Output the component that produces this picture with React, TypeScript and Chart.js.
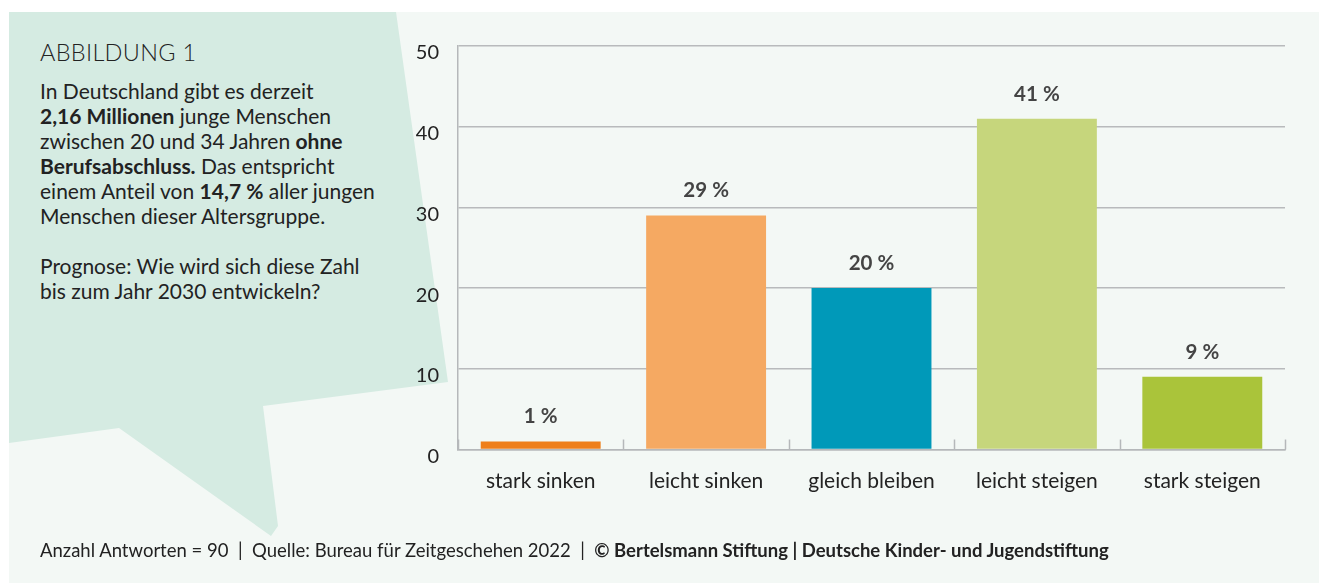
import React, { useEffect, useRef } from "react";
import { Chart, registerables } from "chart.js";

Chart.register(...registerables);

const categories = ["stark sinken", "leicht sinken", "gleich bleiben", "leicht steigen", "stark steigen"];
const shares = [1, 29, 20, 41, 9];
const barColors = ["#ee7f1b", "#f5a962", "#0099b9", "#c6d67c", "#aac43a"];
const yTicks = [0, 10, 20, 30, 40, 50];

const FONT = "Lato, 'Noto Sans', sans-serif";

const upTicksPlugin = {
  id: "upTicks",
  beforeDatasetsDraw(chart: any) {
    const x = chart.scales.x;
    const y = chart.scales.y;
    const ctx = chart.ctx;
    const base = y.getPixelForValue(0);
    ctx.save();
    ctx.strokeStyle = "#b5b8ba";
    ctx.lineWidth = 1.5;
    for (let i = 0; i <= categories.length; i++) {
      const px = Math.round(x.getPixelForValue(i - 0.5)) + 0.5;
      ctx.beginPath();
      ctx.moveTo(px, base);
      ctx.lineTo(px, base - 10);
      ctx.stroke();
    }
    ctx.restore();
  },
};

const valueLabelPlugin = {
  id: "valueLabels",
  afterDatasetsDraw(chart: any) {
    const ctx = chart.ctx;
    const meta = chart.getDatasetMeta(0);
    ctx.save();
    ctx.font = `bold 20.5px ${FONT}`;
    ctx.fillStyle = "#444444";
    ctx.textAlign = "center";
    ctx.textBaseline = "alphabetic";
    meta.data.forEach((bar: any, i: number) => {
      ctx.fillText(`${shares[i]}\u202F%`, bar.x, bar.y - 18);
    });
    ctx.restore();
  },
};

function ChartCanvas() {
  const ref = useRef<HTMLCanvasElement | null>(null);
  useEffect(() => {
    if (!ref.current) return;
    const chart = new Chart(ref.current, {
      type: "bar",
      data: {
        labels: categories,
        datasets: [
          {
            data: shares,
            backgroundColor: barColors,
            borderWidth: 0,
            categoryPercentage: 0.725,
            barPercentage: 1,
          },
        ],
      },
      options: {
        animation: false,
        responsive: false,
        devicePixelRatio: 1,
        layout: { padding: { left: 400, right: 34, top: 46, bottom: 83.5 } },
        plugins: {
          legend: { display: false },
          tooltip: { enabled: false },
          title: { display: false },
        },
        scales: {
          x: {
            grid: { display: false },
            border: { display: true, color: "#b5b8ba", width: 1.5 },
            ticks: {
              color: "#222222",
              font: { family: FONT, size: 21 },
              padding: 11,
              maxRotation: 0,
            },
            afterFit: (s: any) => {
              s.height = 50;
            },
          },
          y: {
            min: 0,
            max: 50,
            afterBuildTicks: (s: any) => {
              s.ticks = yTicks.map((v) => ({ value: v }));
            },
            grid: { color: "#b8babc", lineWidth: 1.5, drawTicks: false },
            border: { display: true, color: "#b5b8ba", width: 1.5 },
            ticks: {
              color: "#222222",
              font: { family: FONT, size: 20 },
              padding: 19,
              labelOffset: 7,
            },
            afterFit: (s: any) => {
              s.width = 58;
            },
          },
        },
      },
      plugins: [upTicksPlugin, valueLabelPlugin],
    });
    return () => chart.destroy();
  }, []);
  return (
    <canvas
      ref={ref}
      width={1319}
      height={583}
      style={{ position: "absolute", left: 0, top: 0, width: 1319, height: 583 }}
    />
  );
}

export default function App() {
  useEffect(() => {
    document.body.style.margin = "0";
  }, []);
  const textStyle: React.CSSProperties = {
    fontFamily: FONT,
    color: "#222222",
  };
  return (
    <div style={{ position: "relative", width: 1319, height: 583, background: "#ffffff", overflow: "hidden" }}>
      <div style={{ position: "absolute", left: 9, top: 12, right: 0, bottom: 0, background: "#f3f8f5" }} />
      <svg width={1319} height={583} style={{ position: "absolute", left: 0, top: 0 }}>
        <polygon
          points="9,12 396,12 448,382 263,406 278,526 271,536 119,428 9,443"
          fill="#d5ebe2"
        />
      </svg>
      <div
        style={{
          ...textStyle,
          position: "absolute",
          left: 40,
          top: 38,
          fontSize: 23.5,
          fontWeight: 300,
          lineHeight: "28px",
          letterSpacing: 0.3,
        }}
      >
        ABBILDUNG 1
      </div>
      <div
        style={{
          ...textStyle,
          position: "absolute",
          left: 40,
          top: 78,
          width: 380,
          fontSize: 21,
          lineHeight: "25px",
        }}
      >
        In Deutschland gibt es derzeit
        <br />
        <b>2,16 Millionen</b> junge Menschen
        <br />
        zwischen 20 und 34 Jahren <b>ohne</b>
        <br />
        <b>Berufsabschluss.</b> Das entspricht
        <br />
        einem Anteil von <b>14,7 %</b> aller jungen
        <br />
        Menschen dieser Altersgruppe.
        <br />
        <br />
        Prognose: Wie wird sich diese Zahl
        <br />
        bis zum Jahr 2030 entwickeln?
      </div>
      <ChartCanvas />
      <div
        style={{
          ...textStyle,
          position: "absolute",
          left: 40,
          top: 539,
          fontSize: 18.5,
          lineHeight: "22px",
          whiteSpace: "pre",
        }}
      >
        {"Anzahl Antworten = 90  |  Quelle: Bureau für Zeitgeschehen 2022  |  "}
        <b>© Bertelsmann Stiftung | Deutsche Kinder- und Jugendstiftung</b>
      </div>
    </div>
  );
}
